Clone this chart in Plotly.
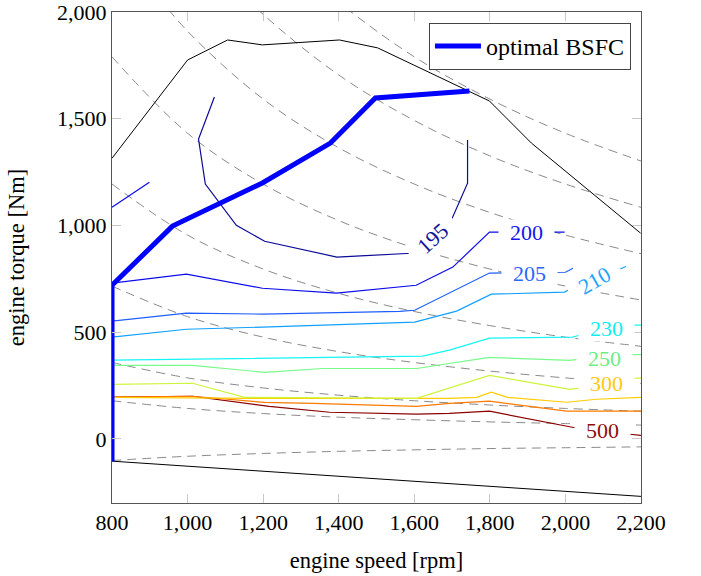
import plotly.graph_objects as go

# ---------------- data ----------------
speed_ticks = [800, 1000, 1200, 1400, 1600, 1800, 2000, 2200]
torque_ticks = [0, 500, 1000, 1500, 2000]

# full-load (max torque) curve
full_load_speed = [800, 1000, 1106, 1198, 1402, 1503, 1799, 1910, 2199]
full_load_torque = [1315, 1775, 1869, 1846, 1869, 1832, 1583, 1386, 964]

# motoring (min torque) curve
motoring_speed = [800, 1561, 2200]
motoring_torque = [-104, -194, -269]

# optimal BSFC line
opt_speed = [800, 800, 960, 1198, 1378, 1497, 1746]
opt_torque = [-104, 720, 997, 1199, 1386, 1597, 1630]

# constant-power lines (dashed grey), torque read at given speeds
pw300_speed = [1300, 1400, 1600, 1800, 2000, 2200]
pw300_torque = [2204, 2046, 1790, 1592, 1432, 1302]
pw250_speed = [1100, 1200, 1400, 1600, 1800, 2000, 2200]
pw250_torque = [2170, 1989, 1705, 1492, 1326, 1194, 1085]
pw200_speed = [900, 1000, 1200, 1400, 1600, 1800, 2000, 2200]
pw200_torque = [2122, 1910, 1592, 1364, 1194, 1061, 955, 868]
pw_speed = [800, 1000, 1200, 1400, 1600, 1800, 2000, 2200]
pw150_torque = [1790, 1432, 1194, 1023, 895, 796, 716, 651]
pw100_torque = [1194, 955, 796, 682, 597, 531, 477, 434]
pw60_torque = [716, 573, 477, 409, 358, 318, 286, 260]
pw30_torque = [358, 286, 239, 205, 179, 159, 143, 130]
pw15_torque = [179, 143, 119, 102, 90, 80, 72, 65]
pwneg_torque = [-101, -81, -68, -58, -51, -45, -41, -37]

# BSFC contours [g/kWh]
c195_speed = [1071, 1029, 1047, 1129, 1204, 1395, 1592, 1698, 1741, 1741]
c195_torque = [1602, 1405, 1194, 1001, 926, 852, 870, 1025, 1198, 1400]
c200_speed = [800, 997, 1198, 1394, 1605, 1702, 1799, 1998]
c200_torque = [730, 772, 706, 683, 720, 805, 969, 969]
c200b_speed = [800, 899]
c200b_torque = [1085, 1203]
c205_speed = [800, 997, 1198, 1561, 1601, 1799, 2000, 2020]
c205_torque = [552, 589, 585, 598, 603, 777, 781, 800]
c210_speed = [800, 997, 1198, 1601, 1712, 1804, 1998, 2016, 2143, 2160]
c210_torque = [477, 514, 524, 547, 599, 678, 688, 706, 795, 808]
c230_speed = [800, 1198, 1622, 1693, 1799, 2019, 2037, 2175, 2200]
c230_torque = [369, 378, 388, 416, 472, 477, 486, 533, 533]
c250_speed = [800, 1013, 1204, 1357, 1606, 1799, 2011, 2032, 2175, 2200]
c250_torque = [345, 345, 312, 330, 330, 382, 368, 373, 395, 395]
c300_speed = [800, 1013, 1151, 1606, 1799, 2011, 2032, 2175, 2200]
c300_torque = [256, 261, 195, 190, 298, 232, 237, 284, 285]
c350_speed = [800, 1216, 1693, 1765, 1804, 1847, 2003, 2032, 2082, 2200]
c350_torque = [195, 190, 190, 195, 219, 195, 172, 176, 186, 195]
c400_speed = [800, 1013, 1204, 1331, 1606, 1693, 1799, 2003, 2200]
c400_torque = [196, 200, 171, 167, 153, 167, 177, 130, 130]
c500_speed = [800, 1013, 1216, 1376, 1606, 1693, 1799, 2032, 2170, 2200]
c500_torque = [196, 200, 153, 125, 116, 120, 130, 50, 22, 17]

# contour labels: text, speed, torque, angle
label_texts = ["195", "200", "205", "210", "230", "250", "300", "500"]
label_speed = [1648, 1897, 1905, 2077, 2108, 2103, 2108, 2098]
label_torque = [941, 969, 777, 743, 519, 377, 261, 41]
label_angle = [-42, 0, 0, -30, 0, 0, 0, 0]
label_colors = ["#12129a", "#1414ee", "#2a66ff", "#1fa2ff", "#10eeee", "#6cee84", "#ffc814", "#8e0c0c"]

# ---------------- figure ----------------
FONT = "Liberation Serif, Times New Roman, Times, serif"
fig = go.Figure()

dash_style = dict(color="#8a8a8a", width=1, dash="9px,6px", shape="spline")
for xs, ys in [(pw300_speed, pw300_torque), (pw250_speed, pw250_torque),
               (pw200_speed, pw200_torque), (pw_speed, pw150_torque),
               (pw_speed, pw100_torque), (pw_speed, pw60_torque),
               (pw_speed, pw30_torque), (pw_speed, pw15_torque),
               (pw_speed, pwneg_torque)]:
    fig.add_trace(go.Scatter(x=xs, y=ys, mode="lines", line=dash_style,
                             showlegend=False, hoverinfo="skip"))

contours = [
    (c500_speed, c500_torque, "#8b0000"),
    (c400_speed, c400_torque, "#ff7a00"),
    (c350_speed, c350_torque, "#ffcc00"),
    (c300_speed, c300_torque, "#cdf53a"),
    (c250_speed, c250_torque, "#78fa8c"),
    (c230_speed, c230_torque, "#14f5f5"),
    (c210_speed, c210_torque, "#12a0ff"),
    (c205_speed, c205_torque, "#1e5eff"),
    (c200_speed, c200_torque, "#0c0ceb"),
    (c200b_speed, c200b_torque, "#0c0ceb"),
    (c195_speed, c195_torque, "#0a0a96"),
]
for xs, ys, col in contours:
    fig.add_trace(go.Scatter(x=xs, y=ys, mode="lines", line=dict(color=col, width=1.2),
                             showlegend=False, hoverinfo="skip"))

fig.add_trace(go.Scatter(x=full_load_speed, y=full_load_torque, mode="lines",
                         line=dict(color="black", width=1), showlegend=False))
fig.add_trace(go.Scatter(x=motoring_speed, y=motoring_torque, mode="lines",
                         line=dict(color="black", width=1), showlegend=False))
fig.add_trace(go.Scatter(x=opt_speed, y=opt_torque, mode="lines", name="optimal BSFC",
                         line=dict(color="#0000ff", width=5), showlegend=True))

nb = "\u00a0\u00a0"
for t, xs, ys, ang, col in zip(label_texts, label_speed, label_torque, label_angle, label_colors):
    fig.add_annotation(x=xs, y=ys, xref="x", yref="y", text=nb + t + nb, showarrow=False,
                       textangle=ang, bgcolor="white", borderpad=0,
                       font=dict(family=FONT, size=22, color=col))

axis_common = dict(showgrid=False, zeroline=False, ticks="inside", ticklen=9,
                   tickcolor="#c8c8c8", tickwidth=1, showline=True, linecolor="#555555",
                   linewidth=1, mirror="ticks", tickformat=",d", automargin=False,
                   ticklabeloverflow="allow",
                   tickfont=dict(family=FONT, size=22, color="black"))

fig.update_layout(
    width=701, height=576,
    margin=dict(l=112, r=60, t=12, b=73),
    paper_bgcolor="white", plot_bgcolor="white",
    font=dict(family=FONT, size=22, color="black"),
    xaxis=dict(range=[800, 2200], tickvals=speed_ticks,
               title=dict(text="engine speed [rpm]", standoff=17,
                          font=dict(family=FONT, size=22.5)),
               **axis_common),
    yaxis=dict(range=[-300, 2000], tickvals=torque_ticks,
               title=dict(text="engine torque [Nm]", standoff=26,
                          font=dict(family=FONT, size=22.5)),
               **axis_common),
    legend=dict(x=0.981, xanchor="right", y=0.978, yanchor="top",
                bgcolor="white", bordercolor="#444444", borderwidth=1,
                font=dict(family=FONT, size=24), itemwidth=46),
)

fig.write_html("out.html")
